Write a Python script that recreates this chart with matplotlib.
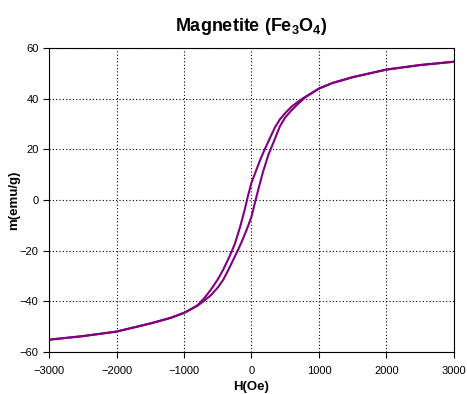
import matplotlib
matplotlib.use('Agg')
import matplotlib.pyplot as plt

plt.rcParams['font.family'] = ['Liberation Sans', 'DejaVu Sans']
plt.rcParams['mathtext.fontset'] = 'custom'
plt.rcParams['mathtext.rm'] = 'Liberation Sans'
plt.rcParams['mathtext.bf'] = 'Liberation Sans:bold'

# descending branch (from +3000 Oe down to -3000 Oe)
h_down = [3000, 2500, 2000, 1500, 1200, 1000, 900, 800, 700, 600, 500, 420, 350, 280,
          200, 130, 60, 0, -50, -100, -170, -250, -330, -420, -500, -600, -700, -800,
          -900, -1000, -1200, -1500, -2000, -2500, -3000]
m_down = [54.6, 53.3, 51.5, 48.5, 46.2, 44.0, 42.4, 40.8, 39.0, 37.0, 34.3, 31.8, 28.8, 24.8,
          20.2, 15.9, 11.0, 6.8, 1.8, -3.8, -10.8, -17.6, -22.6, -27.6, -31.4, -35.4, -38.8, -41.6,
          -43.2, -44.6, -46.6, -48.8, -52.0, -53.8, -55.2]

# ascending branch (from -3000 Oe up to +3000 Oe)
h_up = [-3000, -2500, -2000, -1500, -1200, -1000, -900, -800, -700, -600, -500, -420,
        -350, -280, -200, -130, -60, 0, 50, 100, 170, 250, 330, 420, 500, 600, 700, 800,
        900, 1000, 1200, 1500, 2000, 2500, 3000]
m_up = [-55.2, -53.8, -52.0, -48.8, -46.6, -44.6, -43.2, -41.8, -39.8, -37.6, -34.6, -31.6,
        -28.0, -24.2, -19.8, -15.6, -11.0, -6.6, -1.2, 4.0, 11.0, 17.8, 23.0, 29.0, 32.6, 35.6,
        38.2, 40.6, 42.3, 44.0, 46.2, 48.5, 51.5, 53.3, 54.6]

fig = plt.figure(figsize=(4.67, 3.94), dpi=100)
ax = fig.add_axes([0.105, 0.107, 0.867, 0.771])

ax.plot(h_down, m_down, color='#800080', lw=1.5)
ax.plot(h_up, m_up, color='#800080', lw=1.5)

ax.set_xlim(-3000, 3000)
ax.set_ylim(-60, 60)
ax.set_xticks(range(-3000, 3001, 1000))
ax.set_yticks(range(-60, 61, 20))
ax.grid(True, color='black', linestyle=(0, (1, 2)), linewidth=0.8)
ax.tick_params(axis='x', pad=6)
ax.tick_params(direction='out', length=4, width=0.8, labelsize=8, top=False, right=False)
for s in ax.spines.values():
    s.set_linewidth(0.8)

ax.set_title(r'Magnetite (Fe$_\mathbf{3}$O$_\mathbf{4}$)', fontsize=13, fontweight='bold', pad=12)
ax.set_xlabel('H(Oe)', fontsize=9.5, fontweight='bold', labelpad=4)
ax.set_ylabel('m(emu/g)', fontsize=9.5, fontweight='bold', labelpad=0)

fig.savefig('out.png', dpi=100)
